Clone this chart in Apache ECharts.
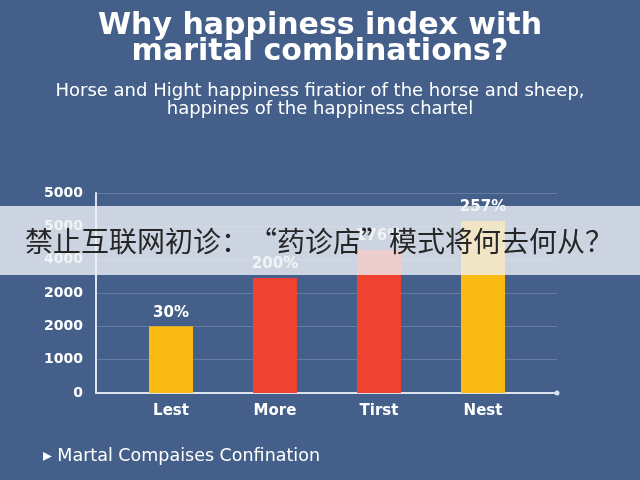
<!DOCTYPE html>
<html>
<head>
<meta charset="utf-8">
<script src="https://cdn.jsdelivr.net/npm/echarts@6/dist/echarts.min.js"></script>
<style>
html,body{margin:0;padding:0;background:#44608a;}
#c{width:640px;height:480px;}
</style>
</head>
<body>
<div id="c"></div>
<script>
var categories = ['Lest', 'More', 'Tirst', 'Nest'];
var values = [2000, 3450, 4290, 5160];
var pctLabels = ['30%', '200%', '176%', '257%'];
var barColors = ['#fbb913', '#f04231', '#f04231', '#fbb913'];
var yTickLabels = ['0', '1000', '2000', '2000', '4000', '5000', '5000'];
var titleText = 'Why happiness index with\nmarital combinations?';
var subtitleText = 'Horse and Hight happiness firatior of the horse and sheep,\nhappines of the happiness chartel';
var footnoteText = '\u25B8 Martal Compaises Confination';
var bannerText = '禁止互联网初诊：“药诊店”模式将何去何从？';

var chart = echarts.init(document.getElementById('c'), null, {renderer: 'canvas'});
var white = '#ffffff';
chart.setOption({
  backgroundColor: '#44608a',
  animation: false,
  title: [{
    text: titleText,
    left: 'center', top: 8,
    textStyle: {color: white, fontFamily: 'DejaVu Sans', fontWeight: 'bold', fontSize: 30, lineHeight: 26}
  }, {
    text: subtitleText,
    left: 'center', top: 77,
    textStyle: {color: white, fontFamily: 'DejaVu Sans', fontWeight: 'normal', fontSize: 18, lineHeight: 18}
  }, {
    text: footnoteText,
    left: 38, top: 442,
    textStyle: {color: white, fontFamily: 'DejaVu Sans', fontWeight: 'normal', fontSize: 17.5}
  }],
  grid: [
    {left: 96, top: 193, width: 461, height: 200},
    {left: 119, top: 193, width: 416, height: 200}
  ],
  xAxis: [{
    gridIndex: 0, type: 'category', data: [''],
    axisLine: {show: true, lineStyle: {color: '#dbe3ee', width: 2}, symbol: ['none', 'circle'], symbolSize: [5, 5]},
    axisTick: {show: false}, axisLabel: {show: false}, splitLine: {show: false}
  }, {
    gridIndex: 1, type: 'category', data: categories,
    axisLine: {show: false}, axisTick: {show: false},
    axisLabel: {color: white, fontFamily: 'DejaVu Sans', fontWeight: 'bold', fontSize: 15, margin: 11}
  }],
  yAxis: [{
    gridIndex: 0, type: 'value', min: 0, max: 6000, interval: 1000,
    axisLine: {show: true, lineStyle: {color: '#dbe3ee', width: 2}},
    axisTick: {show: false},
    axisLabel: {color: white, fontFamily: 'DejaVu Sans', fontWeight: 'bold', fontSize: 14, margin: 13,
      formatter: function (v) { return yTickLabels[Math.round(v / 1000)]; }},
    splitLine: {show: true, lineStyle: {color: 'rgba(255,255,255,0.18)', width: 1}}
  }, {
    gridIndex: 1, type: 'value', min: 0, max: 6000, interval: 1000, show: false,
    splitLine: {show: false}
  }],
  series: [{
    type: 'bar', xAxisIndex: 1, yAxisIndex: 1, barWidth: 44,
    data: values.map(function (v, i) { return {value: v, itemStyle: {color: barColors[i]}}; }),
    label: {
      show: true, position: 'top', distance: 6, color: white,
      fontFamily: 'DejaVu Sans', fontWeight: 'bold', fontSize: 15,
      formatter: function (p) { return pctLabels[p.dataIndex]; }
    }
  }],
  graphic: [{
    type: 'rect', z: 100, silent: true,
    shape: {x: 0, y: 206, width: 640, height: 69},
    style: {fill: 'rgba(238,241,245,0.8)'}
  }, {
    type: 'text', z: 101, silent: true,
    x: 319, y: 241,
    style: {text: bannerText, fill: '#262626', font: '28px "Noto Sans CJK SC"', textAlign: 'center', textVerticalAlign: 'middle'}
  }]
});
</script>
</body>
</html>
